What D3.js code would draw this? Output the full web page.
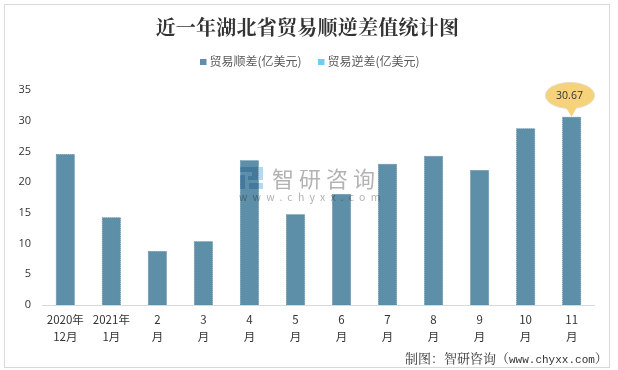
<!DOCTYPE html>
<html><head><meta charset="utf-8">
<script src="https://cdn.jsdelivr.net/npm/d3@7/dist/d3.min.js"></script>
<style>html,body{margin:0;padding:0;background:#fff}svg{display:block}</style>
</head><body><svg id="c" width="618" height="370"></svg>
<script>
const chartTitle = "近一年湖北省贸易顺逆差值统计图";
const categories = [["2020年","12月"],["2021年","1月"],["2","月"],["3","月"],["4","月"],["5","月"],["6","月"],["7","月"],["8","月"],["9","月"],["10","月"],["11","月"]];
const surplus = [24.6,14.3,8.8,10.4,23.6,14.8,18.1,23.0,24.3,22.0,28.8,30.67];
const yTicks = [0,5,10,15,20,25,30,35];
const legendNames = ["贸易顺差(亿美元)","贸易逆差(亿美元)"];
const legendColors = ["#5d8fa8","#6ccdf5"];
const calloutText = "30.67";
const svg = d3.select("#c");
const cjk = "'Noto Sans CJK SC','Noto Sans',sans-serif";
const serif = "'Noto Serif CJK SC','Noto Sans CJK SC',serif";
const latin = "'Open Sans',sans-serif";
svg.append("rect").attr("x",4.5).attr("y",4.5).attr("width",605).attr("height",363).attr("fill","#fff").attr("stroke","#d9d9d9");
const x = d3.scaleBand().domain(d3.range(categories.length)).range([42.5,594.5]).paddingInner(0.587).paddingOuter(0.29);
const y = d3.scaleLinear().domain([0,35]).range([305,90.2]);
svg.append("text").attr("x",307.5).attr("y",35).attr("text-anchor","middle").attr("font-family",serif).attr("font-weight","700").attr("font-size",20).attr("letter-spacing",0.25).attr("fill","#333").text(chartTitle);
svg.selectAll("rect.bar").data(surplus).join("rect").attr("class","bar").attr("x",(d,i)=>x(i)+.5).attr("width",x.bandwidth()-1).attr("y",d=>y(d)+.5).attr("height",d=>y(0)-y(d)-.5).attr("fill",legendColors[0]).attr("stroke","#55869f").attr("stroke-dasharray","1 1");
svg.append("line").attr("x1",42).attr("x2",595).attr("y1",305.5).attr("y2",305.5).attr("stroke","#d9d9d9");
svg.selectAll("text.yt").data(yTicks).join("text").attr("class","yt").attr("x",31).attr("y",d=>y(d)+3).attr("text-anchor","end").attr("font-family",latin).attr("font-size",11).attr("fill","#333").text(d=>d);
svg.selectAll("g.cat").data(categories).join("g").attr("class","cat").each(function(d,i){
  const g=d3.select(this), cx=x(i)+x.bandwidth()/2;
  d.forEach((t,j)=>g.append("text").attr("x",cx).attr("y",j?341:324).attr("text-anchor","middle").attr("font-family",cjk).attr("font-size",11.5).attr("fill","#333").text(t));
});
[[200,209.5],[318,327.5]].forEach((p,i)=>{
  svg.append("rect").attr("x",p[0]).attr("y",59).attr("width",6.5).attr("height",6).attr("fill",legendColors[i]);
  svg.append("text").attr("x",p[1]).attr("y",66).attr("font-family",cjk).attr("font-size",12).attr("fill","#595959").text(legendNames[i]);
});
const lx=x(11)+x.bandwidth()/2, ly=y(surplus[11]);
const callout="#f6d27a";
svg.append("ellipse").attr("cx",570).attr("cy",95.5).attr("rx",24.5).attr("ry",13).attr("fill",callout).attr("stroke","#e3dcc8");
svg.append("path").attr("d",`M${lx-7},${ly-11}L${lx},${ly}L${lx+6},${ly-11}Z`).attr("fill",callout);
svg.append("text").attr("x",569.5).attr("y",99).attr("text-anchor","middle").attr("font-family",latin).attr("font-size",10.5).attr("fill","#333").text(calloutText);
const ft=svg.append("text").attr("x",405).attr("y",363).attr("font-family",serif).attr("font-size",13).attr("fill","#333");
ft.append("tspan").text("制图\uFF1A智研咨询\uFF08");
ft.append("tspan").attr("font-family","'Liberation Mono',monospace").attr("font-size",11).text("www.chyxx.com");
ft.append("tspan").text("\uFF09");
const wm=svg.append("g").style("mix-blend-mode","multiply");
const logoParts=[[240,167,18,5],[240,175,5,14],[252,167,6,13],[248,176,10,4],[249,183,14,6],[259,167,4,13]];
wm.selectAll("rect").data(logoParts).join("rect").attr("x",d=>d[0]).attr("y",d=>d[1]).attr("width",d=>d[2]).attr("height",d=>d[3]).attr("fill","#b5d8ef");
wm.append("text").attr("x",272).attr("y",186.5).attr("font-family",cjk).attr("font-size",22).attr("fill","#b3b3b3").attr("letter-spacing",5).text("智研咨询");
wm.append("text").attr("x",239).attr("y",201).attr("font-family",cjk).attr("font-size",10.5).attr("fill","#b3b3b3").attr("letter-spacing",5.2).text("www.chyxx.com");
</script></body></html>
